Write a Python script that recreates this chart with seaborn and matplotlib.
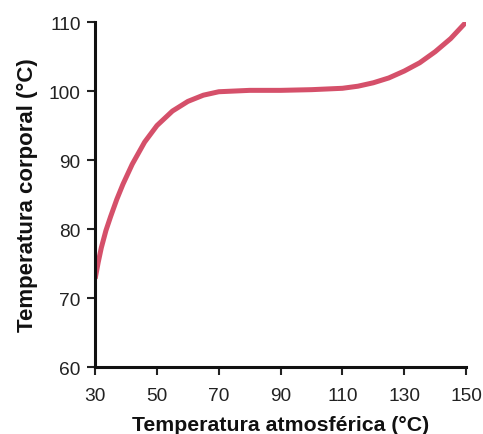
import numpy as np
import pandas as pd
import matplotlib
matplotlib.use("Agg")
import matplotlib.pyplot as plt
import seaborn as sns

# temperature readings
atmos_temp = [30, 31, 32, 33.5, 35, 37, 39, 42, 46, 50, 55, 60, 65, 70,
              80, 90, 100, 110, 115, 120, 125, 130, 135, 140, 145, 150]
body_temp = [72.8, 75.2, 77.3, 79.8, 81.8, 84.3, 86.5, 89.4, 92.6, 95.0,
             97.1, 98.5, 99.4, 99.9, 100.1, 100.1, 100.2, 100.4, 100.7,
             101.2, 101.9, 102.9, 104.1, 105.7, 107.6, 110.0]

x_ticks = [30, 50, 70, 90, 110, 130, 150]
y_ticks = [60, 70, 80, 90, 100, 110]

df = pd.DataFrame({"atmos": atmos_temp, "body": body_temp})

sns.set_style("ticks")
plt.rcParams['font.family'] = ['Liberation Sans', 'DejaVu Sans']

fig = plt.figure(figsize=(4.83, 4.35), dpi=100)
ax = fig.add_axes([0.197, 0.154, 0.768, 0.793])

sns.lineplot(data=df, x="atmos", y="body", ax=ax, color="#d5506a",
             linewidth=3.6, solid_capstyle="butt")

ax.set_xlim(30, 150)
ax.set_ylim(60, 110)
ax.set_xticks(x_ticks)
ax.set_yticks(y_ticks)
ax.tick_params(axis="both", labelsize=13.8, length=5.5, width=1.5,
               color="#222222", labelcolor="#222222")
ax.tick_params(axis="x", pad=9)
ax.tick_params(axis="y", pad=5)

for side in ["top", "right"]:
    ax.spines[side].set_visible(False)
for side in ["left", "bottom"]:
    ax.spines[side].set_linewidth(2.2)
    ax.spines[side].set_color("#111111")

ax.set_xlabel("Temperatura atmosférica (°C)", fontsize=15.3, fontweight="bold",
              color="#111111", labelpad=8)
ax.set_ylabel("Temperatura corporal (°C)", fontsize=16, fontweight="bold",
              color="#111111", labelpad=8)

fig.savefig("out.png", dpi=100)
